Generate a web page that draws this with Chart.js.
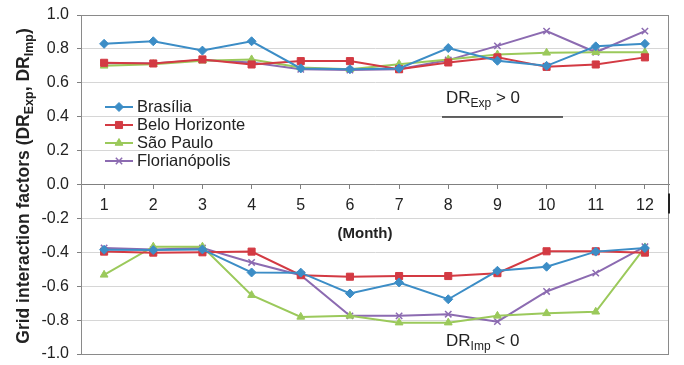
<!DOCTYPE html>
<html lang="pt">
<head>
<meta charset="UTF-8">
<title>Grid interaction factors</title>
<script src="https://cdn.jsdelivr.net/npm/chart.js"></script>
<style>
  html, body { margin: 0; padding: 0; background: #fff; }
  #wrap { width: 684px; height: 365px; }
</style>
</head>
<body>
<div id="wrap"><canvas id="c" width="684" height="365"></canvas></div>
<script>
// months on the x axis
const months = [1, 2, 3, 4, 5, 6, 7, 8, 9, 10, 11, 12];
const yTicks = [-1, -0.8, -0.6, -0.4, -0.2, 0, 0.2, 0.4, 0.6, 0.8, 1];

const cities = ['Brasília', 'Belo Horizonte', 'São Paulo', 'Florianópolis'];
const colors = ['#3c8dc6', '#d33a43', '#9bc95b', '#8c6bb1'];
const markers = ['rectRot', 'rect', 'triangle', 'crossRot'];

// DR_Exp (> 0)
const brasiliaExp = [0.83, 0.845, 0.79, 0.845, 0.685, 0.68, 0.685, 0.805, 0.73, 0.70, 0.815, 0.83];
const beloExp     = [0.718, 0.714, 0.738, 0.708, 0.728, 0.728, 0.68, 0.72, 0.75, 0.694, 0.708, 0.75];
const saoPauloExp = [0.70, 0.71, 0.73, 0.738, 0.69, 0.68, 0.71, 0.738, 0.767, 0.777, 0.78, 0.78];
const florExp     = [0.715, 0.714, 0.735, 0.72, 0.68, 0.675, 0.68, 0.734, 0.818, 0.905, 0.78, 0.905];

// DR_Imp (< 0)
const brasiliaImp = [-0.385, -0.387, -0.383, -0.519, -0.52, -0.643, -0.578, -0.677, -0.509, -0.485, -0.396, -0.375];
const beloImp     = [-0.396, -0.402, -0.40, -0.396, -0.535, -0.544, -0.54, -0.54, -0.523, -0.394, -0.394, -0.402];
const saoPauloImp = [-0.533, -0.367, -0.367, -0.653, -0.781, -0.775, -0.815, -0.815, -0.775, -0.76, -0.751, -0.371];
const florImp     = [-0.375, -0.383, -0.375, -0.46, -0.535, -0.775, -0.775, -0.765, -0.809, -0.631, -0.523, -0.367];

const expSeries = [brasiliaExp, beloExp, saoPauloExp, florExp];
const impSeries = [brasiliaImp, beloImp, saoPauloImp, florImp];

const FONT = '"Liberation Sans", Arial, sans-serif';

function makeSet(i, vals) {
    return {
        label: cities[i],
        data: months.map((m, k) => ({ x: m, y: vals[k] })),
        borderColor: colors[i],
        backgroundColor: colors[i],
        borderWidth: 2,
        pointStyle: markers[i],
        pointRadius: markers[i] === 'rect' ? 5 : 4.5,
        pointBackgroundColor: colors[i],
        pointBorderColor: colors[i],
        pointBorderWidth: markers[i] === 'crossRot' ? 1.5 : 1,
        tension: 0
    };
}

const datasets = [];
expSeries.forEach((v, i) => datasets.push(makeSet(i, v)));
impSeries.forEach((v, i) => datasets.push(makeSet(i, v)));

// text with subscript parts
function richWidth(ctx, parts, size, subSize) {
    let w = 0;
    parts.forEach(p => {
        ctx.font = p.bold + ' ' + (p.sub ? subSize : size) + 'px ' + FONT;
        w += ctx.measureText(p.t).width;
    });
    return w;
}
function drawRich(ctx, parts, x, y, size, subSize, subOff) {
    let cx = x;
    parts.forEach(p => {
        ctx.font = p.bold + ' ' + (p.sub ? subSize : size) + 'px ' + FONT;
        ctx.fillText(p.t, cx, y + (p.sub ? subOff : 0));
        cx += ctx.measureText(p.t).width;
    });
}

const extras = {
    id: 'extras',
    afterDraw(chart) {
        const ctx = chart.ctx;
        const a = chart.chartArea;
        ctx.save();
        // plot frame
        ctx.strokeStyle = '#8a8a8a';
        ctx.lineWidth = 1;
        ctx.strokeRect(a.left + 0.5, a.top + 0.5, a.right - a.left - 1, a.bottom - a.top);
        const y0 = chart.scales.y.getPixelForValue(0);
        ctx.strokeStyle = '#222';
        ctx.lineWidth = 2;
        ctx.beginPath();
        ctx.moveTo(a.right, y0 + 9);
        ctx.lineTo(a.right, y0 + 29);
        ctx.stroke();

        // legend
        ctx.textBaseline = 'middle';
        ctx.textAlign = 'left';
        cities.forEach((name, i) => {
            const y = 107 + i * 18;
            ctx.strokeStyle = colors[i];
            ctx.fillStyle = colors[i];
            ctx.lineWidth = 2;
            ctx.beginPath();
            ctx.moveTo(105, y);
            ctx.lineTo(133, y);
            ctx.stroke();
            ctx.lineWidth = markers[i] === 'crossRot' ? 1.5 : 1;
            Chart.helpers.drawPoint(ctx, {
                pointStyle: markers[i],
                radius: markers[i] === 'rect' ? 5 : 4.5,
                rotation: 0,
                borderWidth: ctx.lineWidth
            }, 119, y);
            ctx.fillStyle = '#222';
            ctx.font = '16.5px ' + FONT;
            ctx.fillText(name, 137, y);
        });

        // annotations
        ctx.fillStyle = '#222';
        ctx.textBaseline = 'alphabetic';
        drawRich(ctx, [{ t: 'DR', bold: '' }, { t: 'Exp', sub: true, bold: '' }, { t: ' > 0', bold: '' }],
            446, 103, 17, 12, 4);
        ctx.strokeStyle = '#333';
        ctx.lineWidth = 1.5;
        ctx.beginPath();
        ctx.moveTo(442, 117);
        ctx.lineTo(563, 117);
        ctx.stroke();
        drawRich(ctx, [{ t: 'DR', bold: '' }, { t: 'Imp', sub: true, bold: '' }, { t: ' < 0', bold: '' }],
            446, 346, 17, 12, 4);

        // x axis name
        ctx.font = 'bold 15px ' + FONT;
        ctx.textAlign = 'center';
        ctx.fillText('(Month)', 365, 238);

        // y axis title
        const tparts = [
            { t: 'Grid interaction factors (DR', bold: 'bold' },
            { t: 'Exp', sub: true, bold: 'bold' },
            { t: ', DR', bold: 'bold' },
            { t: 'Imp', sub: true, bold: 'bold' },
            { t: ')', bold: 'bold' }
        ];
        ctx.textAlign = 'left';
        const tw = richWidth(ctx, tparts, 17.5, 12.5);
        ctx.translate(29, 186);
        ctx.rotate(-Math.PI / 2);
        drawRich(ctx, tparts, -tw / 2, 0, 17.5, 12.5, 4);
        ctx.restore();
    }
};

new Chart(document.getElementById('c'), {
    type: 'line',
    data: { datasets },
    options: {
        responsive: false,
        devicePixelRatio: 1,
        animation: false,
        layout: { padding: { top: 15, right: 15, bottom: 11, left: 0 } },
        plugins: { legend: { display: false }, tooltip: { enabled: false } },
        scales: {
            x: {
                type: 'linear',
                min: 0.53,
                max: 12.49,
                position: { y: 0 },
                afterBuildTicks: s => { s.ticks = months.map(v => ({ value: v })); },
                afterFit: s => { s.height = 0; s.paddingLeft = 0; s.paddingRight = 0; },
                grid: { drawOnChartArea: false, drawTicks: true, tickLength: 4, color: '#808080' },
                border: { color: '#808080', width: 1 },
                ticks: { font: { size: 16, family: FONT }, color: '#222', padding: 7, maxRotation: 0, autoSkip: false }
            },
            y: {
                min: -1,
                max: 1,
                afterBuildTicks: s => { s.ticks = yTicks.map(v => ({ value: v })); },
                afterFit: s => { s.width = 81; s.paddingTop = 0; s.paddingBottom = 0; },
                grid: {
                    color: c => (c.tick && c.tick.value === 0) ? '#808080' : '#d6d6d6',
                    tickColor: '#808080',
                    tickLength: 4
                },
                border: { color: '#808080', width: 1 },
                ticks: {
                    font: { size: 16, family: FONT },
                    color: '#222',
                    padding: 8,
                    callback: v => v.toFixed(1)
                }
            }
        }
    },
    plugins: [extras]
});
</script>
</body>
</html>
